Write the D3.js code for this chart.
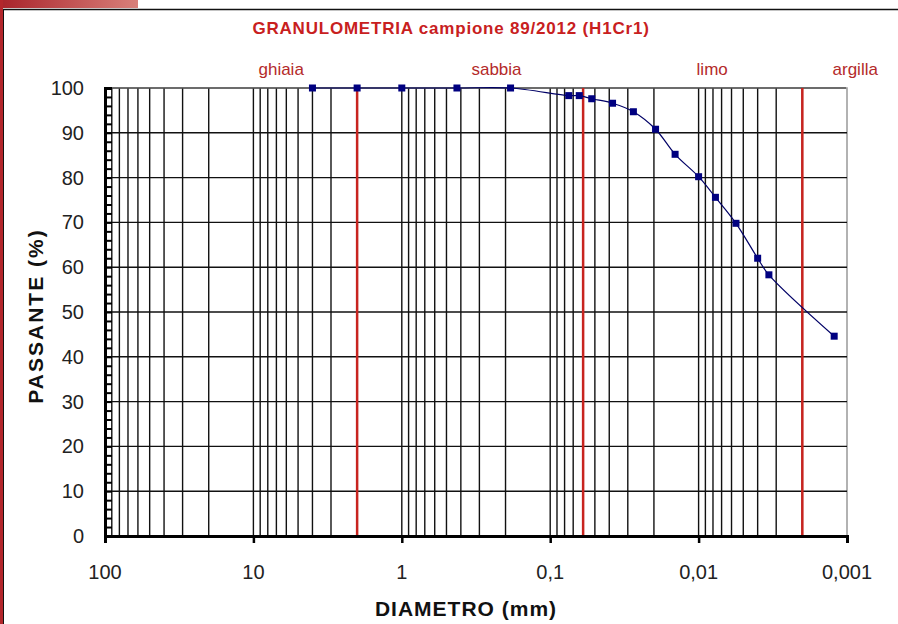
<!DOCTYPE html>
<html lang="it">
<head>
<meta charset="UTF-8">
<title>Granulometria</title>
<style>
body { margin: 0; background: #fff; }
svg { display: block; font-family: Arial, "Liberation Sans", sans-serif; }
.grid line { stroke: #111; stroke-width: 1.4px; }
.tick-label { font-size: 20px; fill: #222; }
.cls-label { font-size: 17px; fill: #b42a2a; }
</style>
</head>
<body>
<div id="chart"></div>
<script src="https://cdn.jsdelivr.net/npm/d3@7"></script>
<script>
// valori
const diametri = [4.0, 2.0, 1.0, 0.425, 0.185, 0.075, 0.0637, 0.0525, 0.038, 0.0275, 0.0195, 0.0144, 0.0100, 0.0077, 0.0056, 0.0040, 0.00336, 0.00122];
const passante = [100, 100, 100, 100, 100, 98.3, 98.3, 97.6, 96.6, 94.7, 90.8, 85.2, 80.2, 75.6, 69.8, 62.0, 58.3, 44.6];
const xTicks = [100, 10, 1, 0.1, 0.01, 0.001];
const xTickLabels = ["100", "10", "1", "0,1", "0,01", "0,001"];
const yTicks = [0, 10, 20, 30, 40, 50, 60, 70, 80, 90, 100];
const limitiClassi = [2, 0.06, 0.002];
const nomiClassi = ["ghiaia", "sabbia", "limo", "argilla"];
const posClassi = [6.5, 0.23, 0.0081, 0.00088];

const W = 898, H = 624;
const svg = d3.select("#chart").append("svg").attr("width", W).attr("height", H);

// cornice della slide
const grad = svg.append("defs").append("linearGradient").attr("id", "rg");
grad.append("stop").attr("offset", "0%").attr("stop-color", "#a8232a");
grad.append("stop").attr("offset", "100%").attr("stop-color", "#d9807a");
svg.append("rect").attr("x", 0).attr("y", 0).attr("width", 138).attr("height", 8).attr("fill", "url(#rg)");
svg.append("rect").attr("x", 0).attr("y", 0).attr("width", 3).attr("height", H).attr("fill", "#b3262b");
svg.append("line").attr("x1", 3).attr("x2", W).attr("y1", 9.5).attr("y2", 9.5).attr("stroke", "#111").attr("stroke-width", 1.5);
svg.append("line").attr("x1", 3.5).attr("x2", 3.5).attr("y1", 9).attr("y2", H).attr("stroke", "#111").attr("stroke-width", 1);

const x = d3.scaleLog().domain([100, 0.001]).range([105, 847]);
const y = d3.scaleLinear().domain([0, 100]).range([536, 88]);

// bordo area grafico
svg.append("rect").attr("x", x(100)).attr("y", y(100))
  .attr("width", x(0.001) - x(100)).attr("height", y(0) - y(100))
  .attr("fill", "none").attr("stroke", "#999").attr("stroke-width", 1.5);

// griglia verticale (1..9 per decade)
const vGrid = [];
for (let k = -3; k < 2; k++) {
  for (let m = 1; m <= 9; m++) {
    const v = m * Math.pow(10, k);
    if (v > 0.0011 && v < 99) vGrid.push(v);
  }
}
const grid = svg.append("g").attr("class", "grid");
grid.selectAll("line.v").data(vGrid).join("line").attr("class", "v")
  .attr("x1", d => x(d)).attr("x2", d => x(d))
  .attr("y1", y(100)).attr("y2", y(0));
grid.selectAll("line.h").data(yTicks.filter(d => d > 0 && d < 100)).join("line").attr("class", "h")
  .attr("x1", x(100)).attr("x2", x(0.001))
  .attr("y1", d => y(d)).attr("y2", d => y(d));
svg.append("line").attr("x1", x(100)).attr("x2", x(0.001) - 1)
  .attr("y1", y(100)).attr("y2", y(100)).attr("stroke", "#555").attr("stroke-width", 1.4);

// limiti delle classi
svg.selectAll("line.cls").data(limitiClassi).join("line").attr("class", "cls")
  .attr("x1", d => x(d)).attr("x2", d => x(d))
  .attr("y1", y(100)).attr("y2", y(0))
  .attr("stroke", "#c8241f").attr("stroke-width", 2.5);

// assi
const yAxis = svg.append("g").attr("transform", `translate(${x(100)},0)`)
  .call(d3.axisRight(y).tickValues(d3.range(0, 101, 2)).tickSize(7).tickFormat(""));
yAxis.selectAll("line").attr("stroke", "#000").attr("stroke-width", 2);
yAxis.select(".domain").attr("stroke", "#000").attr("stroke-width", 3);

const xAxis = svg.append("g").attr("transform", `translate(0,${y(0)})`)
  .call(d3.axisBottom(x).tickValues(xTicks).tickSize(7).tickFormat(""));
xAxis.selectAll("line").attr("stroke", "#000").attr("stroke-width", 2.5);
xAxis.select(".domain").attr("stroke", "#000").attr("stroke-width", 3);

svg.selectAll("text.yl").data(yTicks).join("text").attr("class", "tick-label yl")
  .attr("x", 84).attr("y", d => y(d) + 7).attr("text-anchor", "end").text(d => d);
svg.selectAll("text.xl").data(xTicks).join("text").attr("class", "tick-label xl")
  .attr("x", d => x(d)).attr("y", 579).attr("text-anchor", "middle")
  .text((d, i) => xTickLabels[i]);

// titoli
svg.append("text").attr("x", 451).attr("y", 34).attr("text-anchor", "middle")
  .attr("font-size", 17).attr("font-weight", "bold").attr("fill", "#c8201e").attr("letter-spacing", 0.8)
  .text("GRANULOMETRIA campione 89/2012 (H1Cr1)");
svg.append("text").attr("x", 466).attr("y", 616).attr("text-anchor", "middle")
  .attr("font-size", 21).attr("font-weight", "bold").attr("fill", "#111").attr("letter-spacing", 1)
  .text("DIAMETRO (mm)");
svg.append("text").attr("transform", "translate(43,316) rotate(-90)").attr("text-anchor", "middle")
  .attr("font-size", 21).attr("font-weight", "bold").attr("fill", "#111").attr("letter-spacing", 2)
  .text("PASSANTE (%)");

svg.selectAll("text.cls-label").data(nomiClassi).join("text").attr("class", "cls-label")
  .attr("x", (d, i) => x(posClassi[i])).attr("y", 75).attr("text-anchor", "middle").text(d => d);

// curva granulometrica
const pts = diametri.map((d, i) => [d, passante[i]]);
svg.append("path").datum(pts)
  .attr("d", d3.line().x(d => x(d[0])).y(d => y(d[1])).curve(d3.curveCatmullRom.alpha(0.5)))
  .attr("fill", "none").attr("stroke", "#000066").attr("stroke-width", 1.2);
svg.selectAll("rect.pt").data(pts).join("rect").attr("class", "pt")
  .attr("x", d => x(d[0]) - 3.5).attr("y", d => y(d[1]) - 3.5)
  .attr("width", 7).attr("height", 7).attr("fill", "#000080");
</script>
</body>
</html>
